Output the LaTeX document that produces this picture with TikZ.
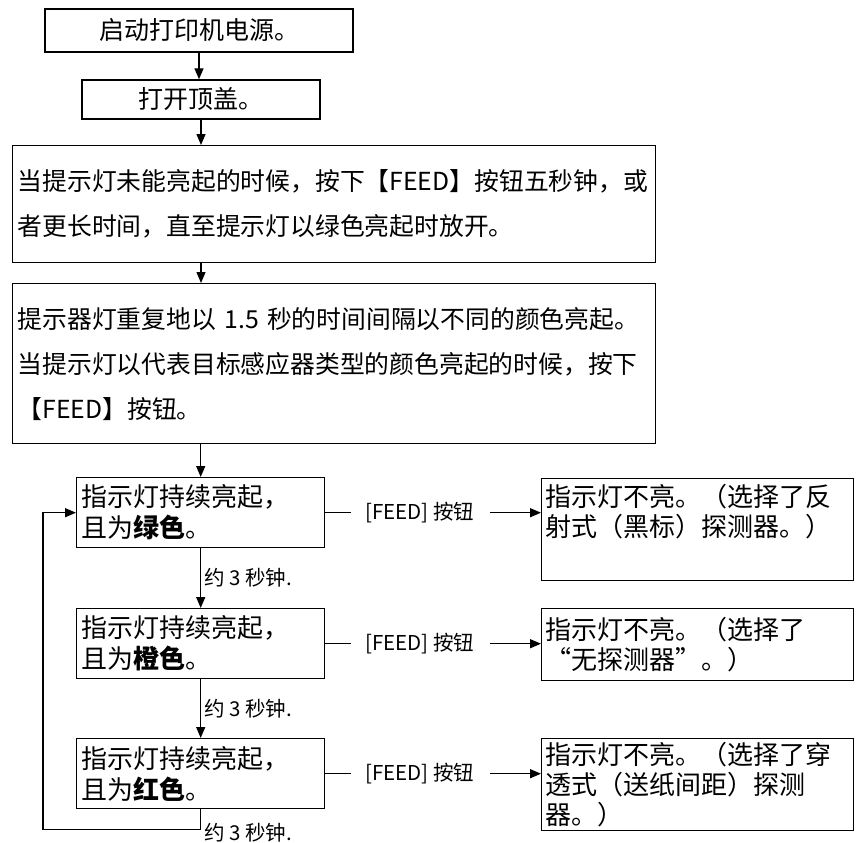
\documentclass[tikz,border=0pt]{standalone}
\usepackage{fontspec}
\setmainfont{Noto Sans CJK SC}
\usetikzlibrary{arrows.meta, positioning}

\begin{document}
\begin{tikzpicture}[x=1pt, y=-1pt, line width=1.4pt,
    >={Triangle[length=11pt, width=9pt]},
    topbox/.style={draw, align=center, font=\fontsize{25}{28}\selectfont},
    widebox/.style={draw, anchor=north west, align=left, text width=633pt,
        inner xsep=5pt, minimum height=#1, font=\fontsize{24.8}{45}\selectfont},
    ledbox/.style={draw, anchor=north west, align=left, text width=238pt,
        inner xsep=5pt, minimum height=70pt, font=\fontsize{26}{31}\selectfont},
    resultbox/.style={draw, anchor=north west, align=left, text width=304pt,
        inner xsep=4pt, inner ysep=2pt, minimum height=#1, font=\fontsize{26}{30}\selectfont},
    note/.style={font=\fontsize{20.5}{22}\selectfont, inner sep=3pt},
    feedlabel/.style={font=\fontsize{20.5}{22}\selectfont, inner sep=3pt}]
    \useasboundingbox (0,0) rectangle (857,843);

    \node[topbox, minimum width=308pt, minimum height=43pt] (power) at (199,30.5) {启动打印机电源。};
    \node[topbox, minimum width=238pt, minimum height=39pt] (cover) at (201,99.5) {打开顶盖。};
    \node[widebox=117pt] (hold) at (12,145) {当提示灯未能亮起的时候，按下【FEED】按钮五秒钟，或\\者更长时间，直至提示灯以绿色亮起时放开。};
    \node[widebox=160pt] (blink) at (12,283) {提示器灯重复地以 1.5 秒的时间间隔以不同的颜色亮起。\\当提示灯以代表目标感应器类型的颜色亮起的时候，按下\\【FEED】按钮。};

    % LED colour cycle
    \node[ledbox] (green) at (76,477) {指示灯持续亮起，\\且为\textbf{绿色}。};
    \node[ledbox] (orange) at (76,608) {指示灯持续亮起，\\且为\textbf{橙色}。};
    \node[ledbox] (red) at (76,738) {指示灯持续亮起，\\且为\textbf{红色}。};

    % selected sensor
    \node[resultbox=102pt] (refl) at (541,478) {指示灯不亮。（选择了反\\射式（黑标）探测器。）\\\strut};
    \node[resultbox=72pt] (nosensor) at (541,608) {指示灯不亮。（选择了\\“无探测器”。）};
    \node[resultbox=92pt] (trans) at (541,738) {指示灯不亮。（选择了穿\\透式（送纸间距）探测\\器。）};

    \draw[->] (power.south) -- (power.south |- cover.north);
    \draw[->] (cover.south) -- (cover.south |- hold.north);
    \draw[->] (hold.south -| cover.south) -- (cover.south |- blink.north);
    \draw[->] (blink.south -| green.north) -- (green.north);
    \draw[->] (green) -- node[note, right] (wait1) {约 3 秒钟.} (orange);
    \draw[->] (orange) -- node[note, right] (wait2) {约 3 秒钟.} (red);
    \draw[->] (red.south) -- ++(0,20) node[note, anchor=west, yshift=-3pt] (wait3) {约 3 秒钟.}
        -| ([xshift=-33pt]green.west) -- (green.west);

    \foreach \led/\res [count=\i] in {green/refl, orange/nosensor, red/trans} {
        \node[feedlabel, anchor=west] (feed\i) at ([xshift=36pt]\led.east) {[FEED] 按钮};
        \draw[shorten >=10pt] (\led.east) -- (feed\i.west);
        \draw[->, shorten <=12pt] (feed\i.east) -- (feed\i.east -| \res.west);
    }
\end{tikzpicture}
\end{document}
